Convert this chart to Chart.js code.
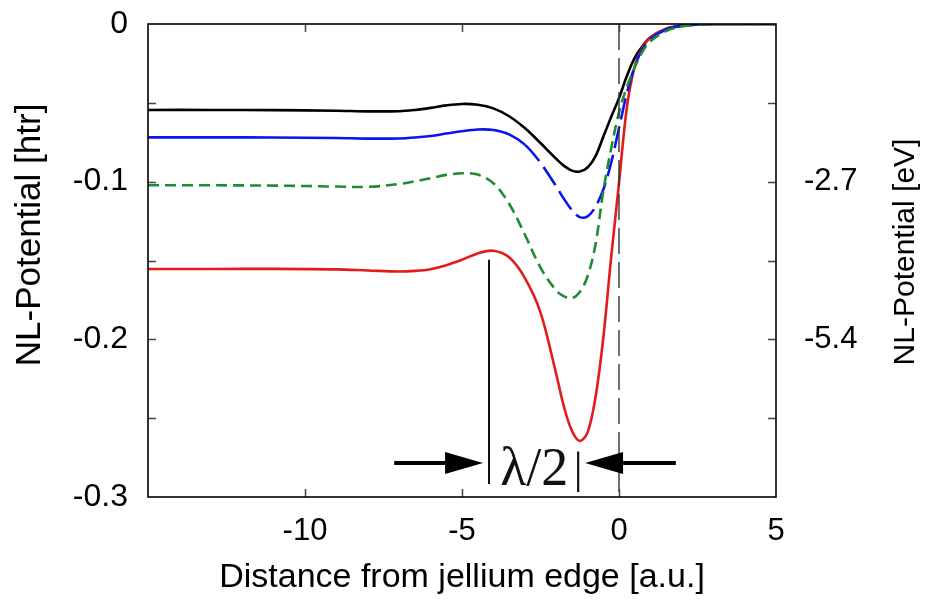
<!DOCTYPE html>
<html><head><meta charset="utf-8">
<script src="https://cdn.jsdelivr.net/npm/chart.js@4.4.0/dist/chart.umd.min.js"></script>
<style>html,body{margin:0;padding:0;background:#fff;overflow:hidden}canvas{display:block}</style>
</head><body>
<canvas id="c" width="926" height="604"></canvas>
<script>
// ---- data ----
const xs    = [-15, -13, -11, -9, -8, -7, -6.5, -6, -5.5, -5, -4.5, -4, -3.5, -3, -2.5, -2, -1.75, -1.5, -1.25, -1, -0.75, -0.5, -0.25, 0, 0.25, 0.5, 0.75, 1, 1.5, 2, 2.5, 3, 4, 5];
const black = [-0.0545,-0.0545,-0.0546,-0.0550,-0.0554,-0.0553,-0.0545,-0.0532,-0.0516,-0.0507,-0.0512,-0.0535,-0.0585,-0.0660,-0.0755,-0.0855,-0.0900,-0.0930,-0.0936,-0.0910,-0.0840,-0.0715,-0.0590,-0.0470,-0.0330,-0.0215,-0.0140,-0.0085,-0.0032,-0.0010,-0.0003,0,0,0];
const blue  = [-0.0719,-0.0719,-0.0720,-0.0723,-0.0727,-0.0726,-0.0720,-0.0710,-0.0695,-0.0680,-0.0669,-0.0672,-0.0700,-0.0765,-0.0880,-0.1030,-0.1110,-0.1180,-0.1225,-0.1220,-0.1160,-0.1050,-0.0880,-0.0660,-0.0440,-0.0270,-0.0160,-0.0095,-0.0035,-0.0011,-0.0003,0,0,0];
const green = [-0.1023,-0.1023,-0.1025,-0.1031,-0.1033,-0.1015,-0.0998,-0.0978,-0.0957,-0.0947,-0.0955,-0.1010,-0.1140,-0.1335,-0.1545,-0.1690,-0.1728,-0.1740,-0.1700,-0.1600,-0.1400,-0.1060,-0.0790,-0.0560,-0.0400,-0.0275,-0.0175,-0.0110,-0.0045,-0.0015,-0.0005,-0.0001,0,0];
const red   = [-0.1554,-0.1554,-0.1553,-0.1556,-0.1563,-0.1570,-0.1566,-0.1555,-0.1530,-0.1495,-0.1455,-0.1438,-0.1480,-0.1610,-0.1830,-0.2220,-0.2430,-0.2580,-0.2645,-0.2590,-0.2370,-0.1990,-0.1480,-0.1010,-0.0530,-0.0270,-0.0150,-0.0085,-0.0030,-0.0010,-0.0003,0,0,0];

const xTickValues     = [-10, -5, 0, 5];
const xTickLabels     = ['-10', '-5', '0', '5'];
const leftTickValues  = [0, -0.1, -0.2, -0.3];
const leftTickLabels  = ['0', '-0.1', '-0.2', '-0.3'];
const rightTickValues = [-0.1, -0.2];
const rightTickLabels = ['-2.7', '-5.4'];
const minorYTicks     = [-0.05, -0.1, -0.15, -0.2, -0.25];
const minorXTicks     = [-10, -5, 0];

const leftTitle  = 'NL-Potential [htr]';
const rightTitle = 'NL-Potential [eV]';

// annotation (data coordinates)
const edgeLine   = [[0, 0], [0, -0.3]];
const halfLine   = [[-4.14, -0.1495], [-4.14, -0.2917]];
const arrowY     = -0.2785;
const arrowLeft  = [-7.16, -4.33];   // from, tip
const arrowRight = [1.81, -1.08];    // from, tip
const annText    = 'λ/2';
const annTextPos = [-2.7, -0.2925];
const annBarX    = -1.3;

const pts = arr => xs.map((x, i) => ({x, y: arr[i]}));
const pairPts = p => p.map(([x, y]) => ({x, y}));

const FONT = '"Liberation Sans", Arial, Helvetica, sans-serif';

const framePlugin = {
  id: 'frame',
  afterDatasetsDraw(chart) {
    const {ctx, chartArea: {left, right, top, bottom}, scales: {x, y}} = chart;
    ctx.save();
    // inward ticks
    ctx.strokeStyle = '#444';
    ctx.lineWidth = 1.5;
    ctx.beginPath();
    minorYTicks.forEach(v => {
      const py = Math.round(y.getPixelForValue(v)) + 0.5;
      ctx.moveTo(left, py); ctx.lineTo(left + 8, py);
      ctx.moveTo(right, py); ctx.lineTo(right - 8, py);
    });
    minorXTicks.forEach(v => {
      const px = Math.round(x.getPixelForValue(v)) + 0.5;
      ctx.moveTo(px, bottom); ctx.lineTo(px, bottom - 8);
      ctx.moveTo(px, top); ctx.lineTo(px, top + 8);
    });
    ctx.stroke();
    // frame
    ctx.strokeStyle = '#000';
    ctx.lineWidth = 1.6;
    ctx.strokeRect(left, top, right - left, bottom - top);

    // arrows
    const ay = y.getPixelForValue(arrowY);
    const drawArrow = (fromX, tipX) => {
      const fx = x.getPixelForValue(fromX), tx = x.getPixelForValue(tipX);
      const dir = Math.sign(tx - fx);
      const headLen = 38, half = 11;
      ctx.strokeStyle = '#000';
      ctx.lineWidth = 4;
      ctx.beginPath();
      ctx.moveTo(fx, ay); ctx.lineTo(tx - dir * headLen, ay);
      ctx.stroke();
      ctx.fillStyle = '#000';
      ctx.beginPath();
      ctx.moveTo(tx, ay);
      ctx.lineTo(tx - dir * headLen, ay - half);
      ctx.lineTo(tx - dir * headLen, ay + half);
      ctx.closePath();
      ctx.fill();
    };
    drawArrow(arrowLeft[0], arrowLeft[1]);
    drawArrow(arrowRight[0], arrowRight[1]);

    // λ/2 text
    ctx.fillStyle = '#111';
    ctx.font = '54px "Liberation Serif", "Times New Roman", serif';
    ctx.textAlign = 'center';
    ctx.textBaseline = 'alphabetic';
    ctx.fillText(annText, x.getPixelForValue(annTextPos[0]), y.getPixelForValue(annTextPos[1]));
    ctx.font = '44px "Liberation Serif", "Times New Roman", serif';
    ctx.fillText('|', x.getPixelForValue(annBarX), y.getPixelForValue(annTextPos[1]) - 2);

    // axis titles (rotated)
    ctx.fillStyle = '#000';
    ctx.textAlign = 'center';
    ctx.textBaseline = 'middle';
    ctx.save();
    ctx.translate(30, top + (bottom - top) * 0.446);
    ctx.rotate(-Math.PI / 2);
    ctx.font = '35px ' + FONT;
    ctx.fillText(leftTitle, 0, 0);
    ctx.restore();
    ctx.save();
    ctx.translate(906, top + (bottom - top) * 0.482);
    ctx.rotate(-Math.PI / 2);
    ctx.font = '30px ' + FONT;
    ctx.fillText(rightTitle, 0, 0);
    ctx.restore();
    ctx.restore();
  }
};

const yFit = w => s => { s.width = w; s.paddingTop = 0; s.paddingBottom = 0; };

new Chart(document.getElementById('c'), {
  type: 'line',
  data: {
    datasets: [
      {data: pairPts(edgeLine), borderColor: '#333', borderWidth: 1.4, borderDash: [26, 8], pointRadius: 0, tension: 0},
      {data: pairPts(halfLine), borderColor: '#111', borderWidth: 2, pointRadius: 0, tension: 0},
      {data: pts(green), borderColor: '#1e8c30', borderWidth: 2.6, borderDash: [11, 6], pointRadius: 0, tension: 0.35},
      {data: pts(blue), borderColor: '#0a14f0', borderWidth: 2.6, pointRadius: 0, tension: 0.35,
        segment: {borderDash: c => (c.p0.parsed.x >= -3 && c.p0.parsed.x < 1.5) ? [22, 7] : []}},
      {data: pts(red), borderColor: '#e21b1b', borderWidth: 2.6, pointRadius: 0, tension: 0.35},
      {data: pts(black), borderColor: '#000', borderWidth: 2.6, pointRadius: 0, tension: 0.35}
    ]
  },
  options: {
    responsive: false,
    devicePixelRatio: 1,
    animation: false,
    layout: {padding: {top: 24, left: 0, right: 0, bottom: 0}},
    plugins: {legend: {display: false}, tooltip: {enabled: false}},
    scales: {
      x: {
        type: 'linear', position: 'bottom', min: -15, max: 5,
        grid: {display: false, drawTicks: false}, border: {display: false},
        afterBuildTicks: s => { s.ticks = xTickValues.map(v => ({value: v})); },
        ticks: {callback: (v, i) => xTickLabels[i], font: {family: FONT, size: 31}, color: '#000', padding: 16, maxRotation: 0, autoSkip: false},
        title: {display: true, text: 'Distance from jellium edge [a.u.]', font: {family: FONT, size: 34}, color: '#000', padding: {top: 0, bottom: 6}},
        afterFit: s => { s.height = 107; s.paddingLeft = 0; s.paddingRight = 0; }
      },
      y: {
        type: 'linear', position: 'left', min: -0.3, max: 0,
        grid: {display: false, drawTicks: false}, border: {display: false},
        afterBuildTicks: s => { s.ticks = leftTickValues.map(v => ({value: v})); },
        ticks: {callback: (v, i) => leftTickLabels[i], font: {family: FONT, size: 32}, color: '#000', padding: 20, autoSkip: false},
        afterFit: yFit(148)
      },
      y2: {
        type: 'linear', position: 'right', min: -0.3, max: 0,
        grid: {display: false, drawTicks: false}, border: {display: false},
        afterBuildTicks: s => { s.ticks = rightTickValues.map(v => ({value: v})); },
        ticks: {callback: (v, i) => rightTickLabels[i], font: {family: FONT, size: 31}, color: '#000', padding: 28, autoSkip: false},
        afterFit: yFit(150)
      }
    }
  },
  plugins: [framePlugin]
});
</script>
</body></html>
